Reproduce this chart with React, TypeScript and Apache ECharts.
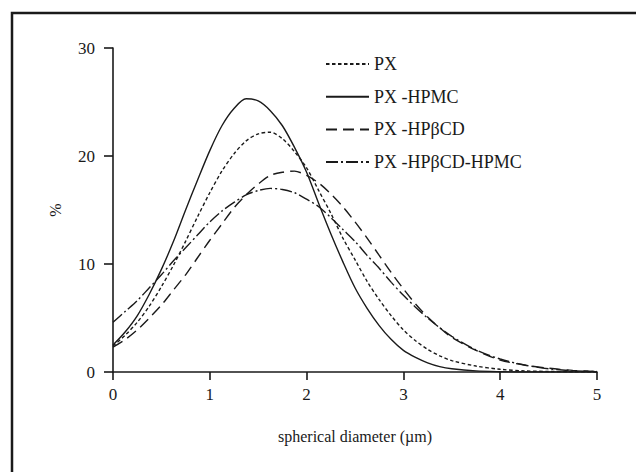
import React, { useEffect, useRef } from "react";
import * as echarts from "echarts";

const xValues = [0, 0.125, 0.25, 0.375, 0.5, 0.625, 0.75, 0.875, 1, 1.125, 1.25, 1.375, 1.5, 1.625, 1.75, 1.875, 2, 2.125, 2.25, 2.375, 2.5, 2.625, 2.75, 2.875, 3, 3.125, 3.25, 3.375, 3.5, 3.75, 4, 4.25, 4.5, 4.75, 5];

const seriesNames = ["PX", "PX -HPMC", "PX -HPβCD", "PX -HPβCD-HPMC"];

const pxValues = [2.4, 3.4, 4.6, 6.1, 7.9, 9.9, 12.1, 14.4, 16.6, 18.6, 20.2, 21.4, 22.05, 22.2, 21.6, 20.4, 18.9, 16.8, 14.7, 12.4, 10.4, 8.4, 6.7, 5.2, 3.9, 2.9, 2.1, 1.5, 1.05, 0.55, 0.25, 0.1, 0.05, 0.02, 0];
const pxHpmcValues = [2.5, 3.7, 5.2, 7.2, 9.5, 12.1, 15.0, 17.8, 20.5, 22.8, 24.4, 25.3, 25.1, 24.2, 22.8, 20.8, 18.5, 15.6, 12.8, 10.2, 7.8, 5.9, 4.3, 3.0, 2.0, 1.35, 0.85, 0.5, 0.3, 0.1, 0.03, 0, 0, 0, 0];
const pxCdValues = [2.3, 3.0, 3.9, 5.0, 6.2, 7.6, 9.0, 10.6, 12.2, 13.7, 15.2, 16.4, 17.4, 18.2, 18.5, 18.6, 18.2, 17.5, 16.5, 15.3, 13.9, 12.4, 10.8, 9.2, 7.7, 6.3, 5.1, 4.1, 3.2, 2.0, 1.1, 0.65, 0.35, 0.15, 0.05];
const pxCdHpmcValues = [4.6, 5.6, 6.6, 7.8, 9.0, 10.3, 11.5, 12.7, 13.9, 14.9, 15.7, 16.4, 16.8, 17.0, 16.9, 16.6, 16.0, 15.3, 14.3, 13.2, 12.1, 10.8, 9.6, 8.3, 7.1, 6.0, 5.0, 4.1, 3.3, 2.05, 1.2, 0.65, 0.3, 0.12, 0.05];

const xTicks = { min: 0, max: 5, interval: 1 };
const yTicks = { min: 0, max: 30, interval: 10 };

const FONT = "'Liberation Serif', 'Times New Roman', serif";
const INK = "#1a1a1a";

function pairs(vals: number[]) {
  return xValues.map((x, i) => [x, vals[i]]);
}

export default function App() {
  const ref = useRef<HTMLDivElement>(null);
  useEffect(() => {
    if (!ref.current) return;
    const chart = echarts.init(ref.current, null, { renderer: "svg" });
    const mk = (name: string, vals: number[], type: any) => ({
      name,
      type: "line",
      data: pairs(vals),
      smooth: 0.3,
      showSymbol: false,
      symbol: "none",
      itemStyle: { color: INK },
      lineStyle: { color: INK, width: 1.4, type },
    });
    chart.setOption({
      animation: false,
      backgroundColor: "#ffffff",
      grid: { left: 113, right: 39, top: 48, bottom: 100 },
      legend: {
        orient: "vertical",
        left: 320,
        top: 50,
        itemWidth: 43,
        itemHeight: 14,
        itemGap: 14.7,
        itemStyle: { opacity: 0, borderWidth: 0 },
        textStyle: { fontFamily: FONT, fontSize: 18, color: INK, padding: [0, 0, 0, 0] },
        data: seriesNames,
      },
      xAxis: {
        type: "value",
        ...xTicks,
        name: "spherical diameter (µm)",
        nameLocation: "middle",
        nameGap: 56,
        nameTextStyle: { fontFamily: FONT, fontSize: 16, color: INK },
        axisLine: { lineStyle: { color: INK, width: 1.6 } },
        axisTick: { show: true, inside: false, length: 8, lineStyle: { color: INK, width: 1.6 } },
        axisLabel: { fontFamily: FONT, fontSize: 17, color: INK, margin: 14 },
        splitLine: { show: false },
      },
      yAxis: {
        type: "value",
        ...yTicks,
        name: "%",
        nameLocation: "middle",
        nameGap: 50,
        nameRotate: 90,
        nameTextStyle: { fontFamily: FONT, fontSize: 16, color: INK },
        axisLine: { show: true, lineStyle: { color: INK, width: 1.6 } },
        axisTick: { show: true, inside: false, length: 9, lineStyle: { color: INK, width: 1.6 } },
        axisLabel: { fontFamily: FONT, fontSize: 17, color: INK, margin: 18 },
        splitLine: { show: false },
      },
      graphic: [
        {
          type: "rect",
          shape: { x: 12, y: 13, width: 700, height: 600 },
          style: { fill: "none", stroke: INK, lineWidth: 2.5 },
          silent: true,
        },
      ],
      series: [
        mk(seriesNames[0], pxValues, [3.5, 2.5]),
        mk(seriesNames[1], pxHpmcValues, "solid"),
        mk(seriesNames[2], pxCdValues, [11, 6]),
        mk(seriesNames[3], pxCdHpmcValues, [12, 3, 2, 3]),
      ],
    });
    return () => chart.dispose();
  }, []);
  return (
    <div
      ref={ref}
      style={{ position: "absolute", left: 0, top: 0, width: 636, height: 472, background: "#fff" }}
    />
  );
}
